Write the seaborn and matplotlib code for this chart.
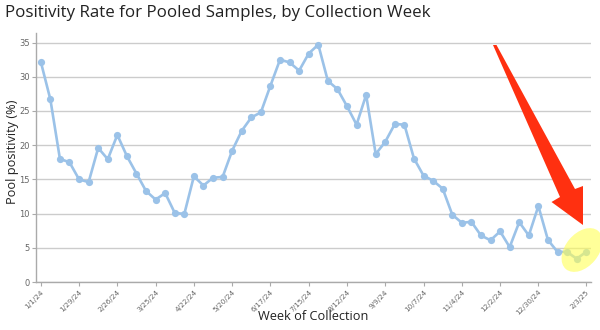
import numpy as np
import pandas as pd
import matplotlib
matplotlib.use("Agg")
import matplotlib.pyplot as plt
import seaborn as sns
from matplotlib.patches import Polygon, Ellipse
from matplotlib.transforms import IdentityTransform

# Weekly pooled-sample positivity (%), first week starting 1/1/24
start_week = "2024-01-01"
positivity = [
    32.2, 26.7, 18.0, 17.5, 15.0, 14.6, 19.6, 17.95, 21.5, 18.4,
    15.85, 13.3, 12.05, 13.0, 10.1, 9.95, 15.45, 14.1, 15.25, 15.35,
    19.2, 22.1, 24.05, 24.8, 28.7, 32.5, 32.1, 30.9, 33.4, 34.7,
    29.4, 28.2, 25.7, 23.0, 27.35, 18.7, 20.5, 23.1, 23.0, 18.05,
    15.55, 14.8, 13.65, 9.85, 8.65, 8.8, 6.8, 6.1, 7.4, 5.1,
    8.75, 6.8, 11.1, 6.15, 4.4, 4.4, 3.4, 4.4,
]
tick_labels = ["1/1/24", "1/29/24", "2/26/24", "3/25/24", "4/22/24", "5/20/24",
               "6/17/24", "7/15/24", "8/12/24", "9/9/24", "10/7/24", "11/4/24",
               "12/2/24", "12/30/24", "2/3/25"]
y_ticks = [0, 5, 10, 15, 20, 25, 30, 35]

weeks = pd.date_range(start_week, periods=len(positivity), freq="7D")
df = pd.DataFrame({"week": weeks, "positivity": positivity})

sns.set_theme(style="white")
plt.rcParams["font.family"] = ["Open Sans", "DejaVu Sans"]

W, H, DPI = 600, 330, 100
fig = plt.figure(figsize=(W / DPI, H / DPI), dpi=DPI)
ax = fig.add_axes([36 / W, 1 - 282 / H, (591 - 36) / W, (282 - 33) / H])

line_color = "#9bc2e8"
sns.lineplot(data=df, x="week", y="positivity", ax=ax, color=line_color,
             linewidth=1.9, marker="o", markersize=5.2, markeredgewidth=0,
             zorder=3)

half = pd.Timedelta(days=3.5)
ax.set_xlim(weeks[0] - half, weeks[-1] + half)
ax.set_ylim(0, 36.4)

tick_dates = pd.to_datetime(tick_labels, format="%m/%d/%y")
ax.set_xticks(tick_dates)
ax.set_xticklabels(tick_labels, rotation=45, ha="right", rotation_mode="anchor",
                   fontsize=5.2, color="#666666", family=["DejaVu Sans"])
ax.set_yticks(y_ticks)
ax.set_yticklabels([str(v) for v in y_ticks], fontsize=6, color="#666666",
                   family=["DejaVu Sans"])

ax.tick_params(axis="x", length=3, width=0.8, color="#aaaaaa", pad=2,
               bottom=True)
ax.tick_params(axis="y", length=3, width=0.8, color="#aaaaaa", pad=1.5,
               left=True)

ax.grid(axis="y", color="#cccccc", linewidth=1.0)
ax.grid(axis="x", visible=False)
for side in ("top", "right"):
    ax.spines[side].set_visible(False)
for side in ("left", "bottom"):
    ax.spines[side].set_color("#aaaaaa")
    ax.spines[side].set_linewidth(1.0)

ax.set_xlabel("")
ax.set_ylabel("")

# Axis titles and chart title placed in figure pixels
fig.text(313 / W, 1 - 317 / H, "Week of Collection", ha="center", va="center",
         fontsize=9.2, color="#222222")
fig.text(13 / W, 1 - 152 / H, "Pool positivity (%)", ha="center", va="center",
         rotation=90, fontsize=9.2, color="#222222")
fig.text(5 / W, 1 - 5 / H, "Positivity Rate for Pooled Samples, by Collection Week",
         ha="left", va="top", fontsize=12.2, color="#222222")


def px(x, y):
    """Pixel position (from top-left) to display coordinates."""
    return (x, H - y)


# Highlight over the most recent weeks
fig.patches.append(Ellipse(px(582, 250), 50, 33, angle=50,
                           transform=IdentityTransform(),
                           facecolor="#ffff55", alpha=0.6, edgecolor="none",
                           zorder=5))

# Red pointer arrow
arrow_pts = [px(493, 45), px(496.5, 45), px(575, 189), px(583, 186),
             px(583, 225), px(551.5, 202), px(560, 197)]
fig.patches.append(Polygon(arrow_pts, closed=True, transform=IdentityTransform(),
                           facecolor="#ff3010", edgecolor="none", zorder=6))

fig.savefig("out.png", dpi=DPI)
